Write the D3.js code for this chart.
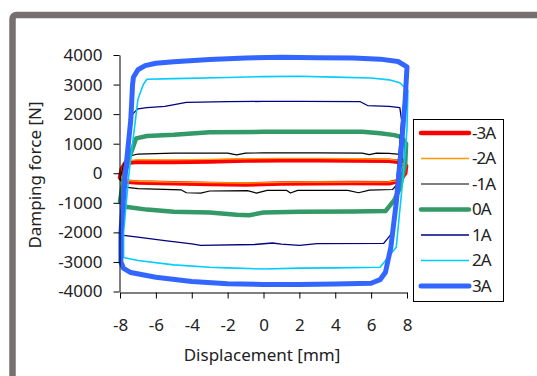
<!DOCTYPE html>
<html>
<head>
<meta charset="utf-8">
<script src="https://cdn.jsdelivr.net/npm/d3@7"></script>
<style>
  body { margin: 0; background: #fff; }
  text { font-family: "Noto Sans", sans-serif; fill: #222; }
</style>
</head>
<body>
<div id="chart"></div>
<script>
// Axis ticks
const xTicks = [-8, -6, -4, -2, 0, 2, 4, 6, 8];
const yTicks = [-4000, -3000, -2000, -1000, 0, 1000, 2000, 3000, 4000];

// Series names (current) in legend order
const currents = ['-3A', '-2A', '-1A', '0A', '1A', '2A', '3A'];

// Each loop: [displacement mm, damping force N], traced as a closed loop
const loopM3 = [[-7.7, 350], [-7.0, 390], [-5, 380], [-3, 400], [-1, 430], [1, 440], [3, 440], [5, 430], [7.0, 420], [7.6, 380],
  [7.95, 250], [7.9, 0], [7.6, -250], [7.0, -340], [5, -330], [3, -340], [1, -350], [-1, -380], [-3, -360], [-5, -340],
  [-7.0, -310], [-7.8, -280], [-8, -150], [-7.9, 150]];
const loopM2 = [[-7.6, 420], [-7.0, 460], [-5, 450], [-3, 470], [-1, 490], [1, 500], [3, 500], [5, 490], [7.0, 470], [7.6, 430],
  [7.9, 200], [7.8, -50], [7.5, -250], [7.0, -290], [5, -300], [3, -290], [1, -310], [-1, -330], [-3, -320], [-5, -300],
  [-7.0, -270], [-7.8, -240], [-7.95, -100], [-7.85, 200]];
const loopM1 = [[-7.6, 560], [-7.0, 650], [-5, 680], [-2.0, 680], [-1.5, 620], [-1.0, 680], [0, 690], [3, 690], [5.5, 680], [5.9, 630], [6.3, 680],
  [7.0, 670], [7.6, 640], [7.9, 300], [7.7, -200], [7.2, -550], [5.9, -570], [5.3, -660], [4.7, -580], [1.9, -580], [1.5, -670], [1.3, -580],
  [0.2, -580], [-0.4, -670], [-0.9, -590], [-3.0, -600], [-3.5, -670], [-4.3, -660], [-4.6, -560], [-7.0, -520], [-7.7, -470], [-8, -200], [-7.8, 300]];
const loop0 = [[-7.1, 1180], [-6.5, 1260], [-5, 1300], [-3, 1390], [0, 1400], [3, 1400], [5.5, 1400], [6.5, 1350], [7.3, 1290], [7.7, 1220],
  [7.95, 1000], [7.9, 300], [7.6, -500], [7.3, -900], [6.8, -1280], [5, -1290], [2, -1300], [0, -1330], [-0.8, -1420], [-1.5, -1400],
  [-3, -1330], [-5, -1300], [-6.5, -1230], [-7.7, -1130], [-8, -950], [-7.8, -200], [-7.5, 500]];
const loop1 = [[-7.0, 2180], [-6.5, 2220], [-5.5, 2260], [-4.3, 2400], [-2, 2420], [0, 2430], [2, 2430], [5.4, 2420], [5.8, 2290], [7.0, 2260],
  [7.6, 2220], [7.7, 1800], [7.2, -2000], [6.7, -2370], [3, -2380], [2, -2440], [1, -2400], [0.5, -2360], [-0.5, -2410], [-3.5, -2440],
  [-4, -2390], [-5.5, -2280], [-7.0, -2160], [-7.8, -2100], [-7.9, -1500], [-7.3, 2000]];
const loop2 = [[-6.5, 3180], [-5, 3200], [-2, 3240], [0, 3270], [2, 3280], [4, 3250], [6, 3220], [7, 3160], [7.6, 3060], [8.05, 2800],
  [8.0, 1500], [7.8, 0], [7.4, -2500], [6.5, -3180], [4, -3200], [2, -3210], [0, -3240], [-2, -3200], [-3, -3180], [-5, -3100],
  [-7, -2950], [-7.8, -2850], [-7.8, -2000], [-7.5, 0], [-7.0, 2500], [-6.7, 3000]];
const loop3 = [[-7.25, 3250], [-7.0, 3500], [-6.6, 3640], [-6.0, 3720], [-5, 3770], [-3, 3850], [-1, 3900], [1, 3920], [3, 3910], [5, 3900], [6.5, 3860],
  [7.5, 3780], [8.0, 3600], [7.9, 2500], [7.7, 1000], [7.4, -1000], [7.1, -2500], [6.8, -3350], [6.5, -3600], [6, -3720], [4, -3750],
  [2, -3760], [0, -3760], [-2, -3740], [-4, -3660], [-6, -3520], [-7.4, -3360], [-7.8, -3220], [-7.95, -3000], [-7.95, -2000], [-7.7, 0], [-7.4, 1800], [-7.3, 3000]];

const loops = [loopM3, loopM2, loopM1, loop0, loop1, loop2, loop3];
const colors = ['#ff0000', '#ff9900', '#000000', '#339966', '#000080', '#00ccff', '#3366ff'];
const widths = [4.5, 1.3, 1.2, 4.5, 1.3, 1.6, 5];

const width = 537, height = 376;

const svg = d3.select('#chart').append('svg')
    .attr('width', width)
    .attr('height', height);

// Outer gray frame (runs off the right and bottom edge)
svg.append('rect')
    .attr('x', 12.5).attr('y', 15)
    .attr('width', 600).attr('height', 500)
    .attr('rx', 4)
    .attr('fill', '#fff')
    .attr('stroke', '#767170')
    .attr('stroke-width', 6.5);

const x = d3.scaleLinear().domain([-8, 8]).range([120, 407]);
const y = d3.scaleLinear().domain([-4000, 4000]).range([291.5, 55]);

// Loops
const line = d3.line()
    .x(d => x(d[0]))
    .y(d => y(d[1]))
    .curve(d3.curveLinearClosed);

svg.selectAll('.loop')
    .data(loops)
    .enter().append('path')
    .attr('class', 'loop')
    .attr('d', line)
    .attr('fill', 'none')
    .attr('stroke', (d, i) => colors[i])
    .attr('stroke-width', (d, i) => widths[i])
    .attr('stroke-linejoin', 'round');

// plain hyphen minus, no thousands separator
const fmt = d => String(d);

// Y axis
const yAxis = svg.append('g')
    .attr('transform', 'translate(119.5,0)')
    .call(d3.axisLeft(y).tickValues(yTicks).tickFormat(fmt).tickSize(6).tickPadding(11).tickSizeOuter(0));
yAxis.select('.domain').attr('stroke', '#000');
yAxis.selectAll('line').attr('stroke', '#000');
yAxis.selectAll('text')
    .style('font-size', '17px')
    .attr('fill', '#222');

// X axis
const xAxis = svg.append('g')
    .attr('transform', 'translate(0,292.5)')
    .call(d3.axisBottom(x).tickValues(xTicks).tickFormat(fmt).tickSize(6).tickPadding(20).tickSizeOuter(0));
xAxis.select('.domain').attr('stroke', '#000');
xAxis.selectAll('line').attr('stroke', '#000');
xAxis.selectAll('text')
    .style('font-size', '17px')
    .attr('fill', '#222');

// Axis titles
svg.append('text')
    .attr('x', 262).attr('y', 361)
    .attr('text-anchor', 'middle')
    .style('font-size', '17px')
    .text('Displacement [mm]');

svg.append('text')
    .attr('transform', 'translate(41,175) rotate(-90)')
    .attr('text-anchor', 'middle')
    .style('font-size', '17px')
    .text('Damping force [N]');

// Legend
const legend = svg.append('g');
legend.append('rect')
    .attr('x', 413.5).attr('y', 119.5)
    .attr('width', 90).attr('height', 182)
    .attr('fill', '#fff')
    .attr('stroke', '#000')
    .attr('stroke-width', 1);

const ly = d3.scalePoint().domain(currents).range([133, 286]);

legend.selectAll('.lg-line')
    .data(currents)
    .enter().append('line')
    .attr('x1', 421).attr('x2', 469)
    .attr('y1', d => ly(d)).attr('y2', d => ly(d))
    .attr('stroke', (d, i) => colors[i])
    .attr('stroke-width', (d, i) => widths[i])
    .attr('stroke-linecap', (d, i) => widths[i] > 3 ? 'round' : 'butt');

legend.selectAll('.lg-text')
    .data(currents)
    .enter().append('text')
    .attr('x', 472)
    .attr('y', d => ly(d))
    .attr('dy', '0.35em')
    .style('font-size', '17px')
    .style('letter-spacing', '-1px')
    .text(d => d);
</script>
</body>
</html>
